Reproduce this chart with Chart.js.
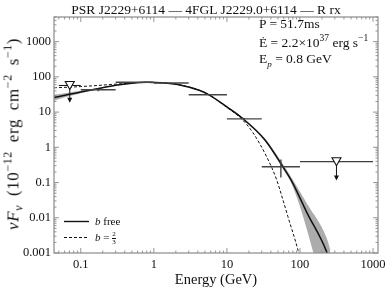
<!DOCTYPE html>
<html>
<head>
<meta charset="utf-8">
<script src="https://cdn.jsdelivr.net/npm/chart.js@4.4.1/dist/chart.umd.min.js"></script>
<style>
    body { margin: 0; background: #fff; }
    #wrap { position: relative; width: 391px; height: 292px; font-family: 'Liberation Serif', serif; color: #111; }
    #wrap .txt { position: absolute; white-space: nowrap; line-height: 1; }
    .frac { display: inline-block; vertical-align: middle; text-align: center; font-size: 7px; line-height: 7px; }
    .frac span { display: block; }
    .frac .num { border-bottom: 0.6px solid #111; }
    #ylab { letter-spacing: 0.6px; word-spacing: 4px; }
</style>
</head>
<body>
<div id="wrap">
    <canvas id="sedChart" width="391" height="292"></canvas>
    <div class="txt" style="left:206px; top:3px; font-size:13.5px; transform:translateX(-50%);">PSR J2229+6114 — 4FGL J2229.0+6114 — R rx</div>
    <div class="txt" style="left:259px; top:17px; font-size:13.5px;">P = 51.7ms</div>
    <div class="txt" style="left:259px; top:34px; font-size:13.5px;">Ė = 2.2×10<sup style="font-size:9.5px;">37</sup> erg s<sup style="font-size:9.5px;">−1</sup></div>
    <div class="txt" style="left:259px; top:52px; font-size:13.5px;">E<sub style="font-size:9px;"><i>p</i></sub> = 0.8 GeV</div>
    <div class="txt" style="left:216px; top:272px; font-size:14.5px; transform:translateX(-50%);">Energy (GeV)</div>
    <div class="txt" id="ylab" style="left:13px; top:134px; font-size:17px; transform:translate(-50%,-50%) rotate(-90deg);"><i>ν</i><i>F</i><sub style="font-size:12px;"><i>ν</i></sub> (10<sup style="font-size:12px;">−12</sup> erg cm<sup style="font-size:12px;">−2</sup> s<sup style="font-size:12px;">−1</sup>)</div>
    <div class="txt" style="left:95px; top:216px; font-size:11px;"><i>b</i> free</div>
    <div class="txt" style="left:95px; top:231px; font-size:11px;"><i>b</i> = <span class="frac"><span class="num">2</span><span>3</span></span></div>
</div>
<script>
// axis ranges and tick labels
const xMin = 0.043, xMax = 1170;
const yMin = 0.001, yMax = 5000;
const xTicks = [0.1, 1, 10, 100, 1000];
const xTickLabels = ['0.1', '1', '10', '100', '1000'];
const yTicks = [0.001, 0.01, 0.1, 1, 10, 100, 1000];
const yTickLabels = ['0.001', '0.01', '0.1', '1', '10', '100', '1000'];

// flux points (GeV, 1e-12 erg cm-2 s-1)
const binLow = [0.1, 0.3, 1, 3, 10, 30];
const binHigh = [0.3, 1, 3, 10, 30, 100];
const binCenter = [0.173, 0.548, 1.73, 5.48, 17.3, 54.8];
const flux = [43, 70, 67, 31, 6.4, 0.28];
const fluxErrLow = [4, 2, 2, 1, 0.4, 0.14];
const fluxErrHigh = [4, 2, 2, 1, 0.4, 0.17];

// upper limits
const ulLow = [0.05, 100];
const ulHigh = [0.1, 1000];
const ulCenter = [0.0707, 316];
const ulValue = [57, 0.39];
const ulArrowTo = [18.5, 0.115];

// model b free
const fitEnergy = [0.043, 0.07, 0.1, 0.17, 0.3, 0.5, 0.8, 1.29, 2.27, 4.27, 5.85, 10, 16, 33, 58.5, 78, 125, 235, 260];
const fitFlux = [26, 32, 37, 46, 58, 66, 70, 68, 59, 41, 30, 14, 6.9, 1.64, 0.28, 0.105, 0.0138, 0.001, 0.0005];
// its uncertainty band
const bandLow = [21, 28.5, 34.5, 44, 56.5, 65, 69, 66.5, 57.5, 40, 29, 13.3, 6.5, 1.5, 0.24, 0.085, 0.0045, 0.00002, 0.000005];
const bandHigh = [31, 36, 40, 48, 60, 67.5, 71.5, 69.5, 60.5, 42, 31, 14.7, 7.3, 1.8, 0.33, 0.13, 0.025, 0.0025, 0.0012];

// model b = 2/3
const fixEnergy = [0.043, 0.07, 0.1, 0.17, 0.3, 0.5, 0.8, 1.29, 2.27, 4.27, 5.85, 10, 16, 22.7, 35, 48, 53, 68.5, 94, 100];
const fixFlux = [49, 51, 53, 57, 62, 67, 70, 68, 59, 41, 30, 13.5, 6.3, 2.6, 0.54, 0.12, 0.063, 0.0107, 0.0012, 0.0007];

const pts = (xs, ys) => xs.map((v, i) => ({ x: v, y: ys[i] }));

Chart.defaults.font.family = "'Liberation Serif', serif";
Chart.defaults.color = '#111';

const frameAndTicks = {
    id: 'frameAndTicks',
    afterDatasetsDraw(chart) {
        const { ctx, chartArea: a, scales: { x, y } } = chart;
        ctx.save();

        // error bars
        ctx.strokeStyle = '#444';
        ctx.lineWidth = 1.4;
        binCenter.forEach((c, i) => {
            const py = y.getPixelForValue(flux[i]);
            const px = x.getPixelForValue(c);
            ctx.beginPath();
            ctx.moveTo(x.getPixelForValue(binLow[i]), py);
            ctx.lineTo(x.getPixelForValue(binHigh[i]), py);
            ctx.moveTo(px, y.getPixelForValue(flux[i] - fluxErrLow[i]));
            ctx.lineTo(px, y.getPixelForValue(flux[i] + fluxErrHigh[i]));
            ctx.stroke();
        });

        // upper limits
        ulCenter.forEach((c, i) => {
            const py = y.getPixelForValue(ulValue[i]);
            const px = x.getPixelForValue(c);
            const tip = y.getPixelForValue(ulArrowTo[i]);
            ctx.strokeStyle = '#111';
            ctx.lineWidth = 1;
            ctx.beginPath();
            ctx.moveTo(x.getPixelForValue(ulLow[i]), py);
            ctx.lineTo(x.getPixelForValue(ulHigh[i]), py);
            ctx.moveTo(px, py);
            ctx.lineTo(px, tip - 4);
            ctx.stroke();
            ctx.fillStyle = '#111';
            ctx.beginPath();
            ctx.moveTo(px - 2.5, tip - 5);
            ctx.lineTo(px + 2.5, tip - 5);
            ctx.lineTo(px, tip);
            ctx.closePath();
            ctx.fill();
            ctx.fillStyle = '#fff';
            ctx.lineWidth = 1.1;
            ctx.beginPath();
            ctx.moveTo(px - 4.5, py - 4);
            ctx.lineTo(px + 4.5, py - 4);
            ctx.lineTo(px, py + 4);
            ctx.closePath();
            ctx.fill();
            ctx.stroke();
        });

        // frame
        ctx.strokeStyle = '#8a8a8a';
        ctx.lineWidth = 1.2;
        ctx.strokeRect(a.left, a.top, a.right - a.left, a.bottom - a.top);

        // inward ticks on all sides
        ctx.lineWidth = 0.9;
        for (let d = -2; d <= 3; d++) {
            for (let m = 1; m <= 9; m++) {
                const v = m * Math.pow(10, d);
                if (v < xMin || v > xMax) continue;
                const px = x.getPixelForValue(v);
                const len = m === 1 ? 5 : 2.5;
                ctx.beginPath();
                ctx.moveTo(px, a.bottom); ctx.lineTo(px, a.bottom - len);
                ctx.moveTo(px, a.top); ctx.lineTo(px, a.top + len);
                ctx.stroke();
            }
        }
        for (let d = -3; d <= 3; d++) {
            for (let m = 1; m <= 9; m++) {
                const v = m * Math.pow(10, d);
                if (v < yMin || v > yMax) continue;
                const py = y.getPixelForValue(v);
                const len = m === 1 ? 5 : 2.5;
                ctx.beginPath();
                ctx.moveTo(a.left, py); ctx.lineTo(a.left + len, py);
                ctx.moveTo(a.right, py); ctx.lineTo(a.right - len, py);
                ctx.stroke();
            }
        }

        // legend samples
        ctx.strokeStyle = '#111';
        ctx.lineWidth = 1.4;
        ctx.beginPath(); ctx.moveTo(64, 221.5); ctx.lineTo(89, 221.5); ctx.stroke();
        ctx.lineWidth = 1;
        ctx.setLineDash([3, 2]);
        ctx.beginPath(); ctx.moveTo(64, 237.5); ctx.lineTo(89, 237.5); ctx.stroke();
        ctx.restore();
    }
};

new Chart(document.getElementById('sedChart'), {
    type: 'line',
    data: {
        datasets: [
            { data: pts(fitEnergy, bandHigh), borderWidth: 0, pointRadius: 0, order: 4, cubicInterpolationMode: 'monotone' },
            { data: pts(fitEnergy, bandLow), borderWidth: 0, pointRadius: 0, order: 3, fill: '-1', backgroundColor: '#acacac', cubicInterpolationMode: 'monotone' },
            { data: pts(fitEnergy, fitFlux), borderColor: '#111', borderWidth: 1.5, pointRadius: 0, order: 2, cubicInterpolationMode: 'monotone' },
            { data: pts(fixEnergy, fixFlux), borderColor: '#111', borderWidth: 1, borderDash: [3, 2], pointRadius: 0, order: 1, cubicInterpolationMode: 'monotone' },
        ],
    },
    options: {
        responsive: false,
        devicePixelRatio: 1,
        animation: false,
        layout: { padding: { left: 0, right: 13, top: 17, bottom: 0 } },
        plugins: { legend: { display: false }, tooltip: { enabled: false } },
        scales: {
            x: {
                type: 'logarithmic', min: xMin, max: xMax,
                grid: { display: false, drawTicks: false },
                border: { display: false },
                afterBuildTicks: (s) => { s.ticks = xTicks.map(v => ({ value: v })); },
                afterFit: (s) => { s.height = 39; },
                ticks: { padding: 4, font: { size: 12.5 }, color: '#111', maxRotation: 0, autoSkip: false,
                    callback: (v) => xTickLabels[xTicks.indexOf(v)] },
            },
            y: {
                type: 'logarithmic', min: yMin, max: yMax,
                grid: { display: false, drawTicks: false },
                border: { display: false },
                afterBuildTicks: (s) => { s.ticks = yTicks.map(v => ({ value: v })); },
                afterFit: (s) => { s.width = 54; },
                ticks: { padding: 3, font: { size: 12.5 }, color: '#111', autoSkip: false,
                    callback: (v) => yTickLabels[yTicks.indexOf(v)] },
            },
        },
    },
    plugins: [frameAndTicks],
});
</script>
</body>
</html>
